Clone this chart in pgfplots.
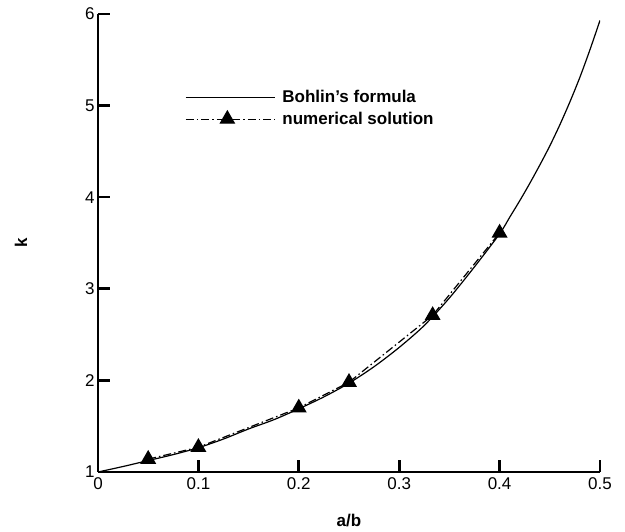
\documentclass[border=0pt]{standalone}
\usepackage{pgfplots}
\pgfplotsset{compat=1.18}
\usepackage{fontspec}
\setmainfont{Liberation Sans}
\begin{document}
\begin{tikzpicture}
\begin{axis}[
  width=502pt, height=458pt, scale only axis,
  xmin=0, xmax=0.5, ymin=1, ymax=6,
  axis lines*=left,
  axis line style={line width=2.6pt},
  every tick/.style={line width=2.6pt, black},
  tick align=inside, major tick length=12pt,
  xtick={0,0.1,0.2,0.3,0.4,0.5},
  ytick={1,2,3,4,5,6},
  minor tick num=0,
  font=\fontsize{17}{20}\selectfont,
  xticklabel style={yshift=-2pt},
  /pgf/number format/assume math mode=true,
  /pgf/number format/fixed,
  xlabel={\textbf{a/b}}, ylabel={\textbf{k}},
  every axis x label/.style={at={(rel axis cs:0.5,0)}, yshift=-49pt, anchor=center},
  every axis y label/.style={at={(rel axis cs:0,0.5)}, xshift=-77pt, rotate=90, anchor=center},
  legend style={draw=none, fill=none, at={(axis cs:0.0867,5.18)}, anchor=north west,
    inner sep=0pt, font=\fontsize{17}{20}\selectfont\bfseries,
    nodes={inner xsep=7pt, inner ysep=1pt}, row sep=6pt},
  legend cell align=left,
  legend image code/.code={\path (0pt,0pt) -- (89pt,0pt);\draw[mark repeat=2,mark phase=2,#1] plot coordinates {(0pt,0pt) (41.5pt,0pt) (83pt,0pt)};},
]
\coordinate (bl) at (rel axis cs:-0.19522,-0.131);
\coordinate (tr) at (rel axis cs:1.0498,1.03057);
\addplot[black, line width=1.2pt, no marks, smooth] coordinates {
(0,1.00) (0.025,1.06) (0.05,1.125) (0.075,1.19) (0.1,1.265) (0.125,1.36)
(0.15,1.47) (0.175,1.57) (0.2,1.69) (0.225,1.82) (0.25,1.97) (0.275,2.15)
(0.3,2.36) (0.325,2.60) (0.35,2.90) (0.375,3.24) (0.4,3.60) (0.41,3.78)
(0.42,3.96) (0.43,4.15) (0.44,4.35) (0.45,4.56) (0.46,4.79) (0.47,5.04)
(0.48,5.31) (0.49,5.61) (0.5,5.93)
};
\addlegendentry{Bohlin's formula}
\addplot[black, line width=1.2pt, dash pattern=on 8pt off 3pt on 1.5pt off 3pt,
  mark=triangle*, mark size=8pt, mark options={solid, fill=black}] coordinates {
(0.05,1.14) (0.1,1.27) (0.2,1.70) (0.25,1.98) (0.3333,2.71) (0.4,3.61)
};
\addlegendentry{numerical solution}
\end{axis}
\pgfresetboundingbox
\path[use as bounding box] (bl) rectangle (tr);
\end{tikzpicture}
\end{document}
